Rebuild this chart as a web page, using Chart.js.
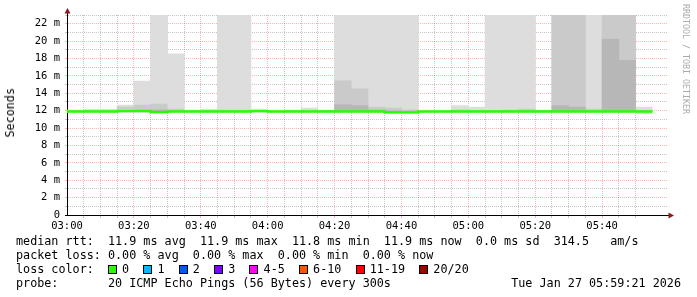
<!DOCTYPE html>
<html>
<head>
<meta charset="utf-8">
<script src="https://cdn.jsdelivr.net/npm/chart.js@4.4.1/dist/chart.umd.min.js"></script>
<style>
  body { margin: 0; background: #fff; }
  #wrap { position: relative; width: 697px; height: 297px; background: #fff; overflow: hidden; }
  #wrap canvas { position: absolute; left: 0; top: 0; }
  .txt { position: absolute; font-family: 'DejaVu Sans Mono', monospace; font-size: 11.75px; line-height: 14px; white-space: pre; color: #000; }
  .box { position: absolute; width: 7px; height: 7px; border: 1px solid #000; }
  #ytitle { left: 3px; top: 88px; writing-mode: vertical-rl; transform: rotate(180deg); }
  #mark { left: 681px; top: 4px; writing-mode: vertical-rl; font-size: 8.3px; line-height: 10px; color: #ababab; }
</style>
</head>
<body>
<div id="wrap">
  <canvas id="chart" width="697" height="297"></canvas>
  <div class="txt" id="ytitle">Seconds</div>
  <div class="txt" id="mark">RRDTOOL / TOBI OETIKER</div>
</div>
<script>
// 5 minute slots, start time of each
const times = ['03:00','03:05','03:10','03:15','03:20','03:25','03:30','03:35','03:40','03:45',
               '03:50','03:55','04:00','04:05','04:10','04:15','04:20','04:25','04:30','04:35',
               '04:40','04:45','04:50','04:55','05:00','05:05','05:10','05:15','05:20','05:25',
               '05:30','05:35','05:40','05:45','05:50'];

// median rtt (ms)
const median = [11.9, 11.9, 11.9, 11.95, 11.95, 11.85, 11.9, 11.9, 11.9, 11.9,
                11.9, 11.95, 11.9, 11.9, 11.9, 11.9, 11.9, 11.9, 11.9, 11.8,
                11.8, 11.9, 11.9, 11.9, 11.9, 11.9, 11.9, 11.9, 11.9, 11.9,
                11.9, 11.9, 11.9, 11.9, 11.9];

// smoke: lowest ping and the three highest pings per slot (ms), values above 23 run off the top
const smokeLow = [11.8, 11.8, 11.8, 11.8, 11.8, 11.8, 11.8, 11.8, 11.8, 11.8,
                  11.8, 11.8, 11.8, 11.8, 11.8, 11.8, 11.8, 11.8, 11.8, 11.7,
                  11.7, 11.8, 11.8, 11.8, 11.8, 11.8, 11.8, 11.8, 11.8, 11.8,
                  11.8, 11.8, 11.8, 11.8, 11.65];
const smokeTop1 = [12.07, 12.18, 12.18, 12.64, 15.4, 30, 18.54, 12.07, 12.18, 30,
                   30, 12.18, 11.95, 12.07, 12.3, 12.07, 30, 30, 30, 30,
                   30, 11.95, 12.0, 12.57, 12.41, 30, 30, 30, 12.07, 30,
                   30, 30, 30, 30, 12.41];
const smokeTop2 = [12.0, 12.0, 12.0, 12.41, 12.64, 12.76, 12.18, 12.0, 12.0, 12.05,
                   12.05, 12.0, 11.9, 12.0, 12.05, 12.0, 15.44, 14.52, 12.41, 12.3,
                   12.1, 11.9, 11.95, 12.1, 12.05, 12.0, 12.07, 12.18, 12.0, 30,
                   30, 12.18, 30, 30, 12.0];
const smokeTop3 = [11.95, 11.95, 11.95, 12.0, 12.1, 12.1, 12.0, 11.95, 11.95, 11.95,
                   11.95, 11.95, 11.9, 11.95, 11.95, 11.95, 12.68, 12.57, 12.1, 12.0,
                   11.95, 11.9, 11.9, 11.95, 11.95, 11.95, 11.95, 11.95, 11.95, 12.57,
                   12.41, 11.95, 20.23, 17.78, 11.95];

const xTickLabels = ['03:00','03:20','03:40','04:00','04:20','04:40','05:00','05:20','05:40'];

const lossLabels = ['0','1','2','3','4-5','6-10','11-19','20/20'];
const lossColors = ['#26ff00','#00b8ff','#0059ff','#7e00ff','#ff00ff','#ff5500','#ff0000','#a10000'];

const legendLines = [
  'median rtt:  11.9 ms avg  11.9 ms max  11.8 ms min  11.9 ms now  0.0 ms sd  314.5   am/s',
  'packet loss: 0.00 % avg  0.00 % max  0.00 % min  0.00 % now',
  null,
  'probe:       20 ICMP Echo Pings (56 Bytes) every 300s'
];
const probeDate = 'Tue Jan 27 05:59:21 2026';

function toMin(t) {
  const p = t.split(':');
  return (parseInt(p[0], 10) - 3) * 60 + parseInt(p[1], 10);
}

const slotMid = times.map(t => toMin(t) + 2.5);
function band(lo, hi) {
  return slotMid.map((x, i) => ({ x: x, y: [lo[i], hi[i]] }));
}
const medianPts = times.map((t, i) => ({ x: toMin(t), y: median[i] }));
medianPts.push({ x: toMin(times[times.length - 1]) + 5, y: median[median.length - 1] });

const MAJOR = 'rgba(255,0,0,0.3)';
const MINOR = 'rgba(140,140,140,0.5)';
const NONE = 'rgba(0,0,0,0)';
const FONT = 'DejaVu Sans Mono';

// grid colour per tick: major / minor / hidden
function xGrid(c) {
  if (!c.tick) return MINOR;
  const v = c.tick.value;
  if (v === 0 || v % 5 !== 0) return NONE;
  return v % 20 === 0 ? MAJOR : MINOR;
}
function yGrid(c) {
  if (!c.tick) return MINOR;
  const v = c.tick.value;
  if (v === 0) return NONE;
  return v % 2 === 0 ? MAJOR : MINOR;
}

const arrows = {
  id: 'arrows',
  afterDraw(chart) {
    const { ctx, chartArea: a } = chart;
    const x0 = Math.round(a.left) + 0.5, y0 = Math.round(a.bottom) + 0.5;
    ctx.save();
    ctx.strokeStyle = '#000';
    ctx.lineWidth = 1;
    ctx.beginPath();
    ctx.moveTo(x0, a.top); ctx.lineTo(x0, a.top - 3);
    ctx.moveTo(a.left - 2, y0); ctx.lineTo(a.left, y0);
    ctx.moveTo(a.right, y0); ctx.lineTo(a.right + 2, y0);
    ctx.stroke();
    ctx.fillStyle = '#8b1a1a';
    ctx.beginPath();
    ctx.moveTo(x0, a.top - 7); ctx.lineTo(x0 - 3, a.top - 1.5); ctx.lineTo(x0 + 3, a.top - 1.5);
    ctx.closePath(); ctx.fill();
    ctx.beginPath();
    ctx.moveTo(a.right + 6, y0); ctx.lineTo(a.right + 0.5, y0 - 3); ctx.lineTo(a.right + 0.5, y0 + 3);
    ctx.closePath(); ctx.fill();
    ctx.restore();
  }
};

new Chart(document.getElementById('chart'), {
  type: 'bar',
  data: {
    datasets: [
      { type: 'line', data: medianPts, borderColor: '#26ff00', borderWidth: 2.4, stepped: true,
        pointRadius: 0, fill: false, order: 0, borderCapStyle: 'butt' },
      { data: band(median, smokeTop3), backgroundColor: '#b7b7b7', grouped: false, order: 1,
        barPercentage: 1, categoryPercentage: 1, borderWidth: 0 },
      { data: band(median, smokeTop2), backgroundColor: '#cacaca', grouped: false, order: 2,
        barPercentage: 1, categoryPercentage: 1, borderWidth: 0 },
      { data: band(smokeLow, smokeTop1), backgroundColor: '#dddddd', grouped: false, order: 3,
        barPercentage: 1, categoryPercentage: 1, borderWidth: 0 }
    ]
  },
  options: {
    responsive: false,
    animation: false,
    devicePixelRatio: 1,
    layout: { padding: { top: 15, right: 29, left: 0, bottom: 0 } },
    plugins: { legend: { display: false }, tooltip: { enabled: false } },
    scales: {
      x: {
        type: 'linear', min: 0, max: 179.7, z: 1, offset: false,
        afterFit: s => { s.height = 82; },
        ticks: {
          stepSize: 5, autoSkip: false, maxRotation: 0, padding: 2, color: '#000',
          font: { family: FONT, size: 10.5 },
          callback: v => (v % 20 === 0 && v / 20 < xTickLabels.length) ? xTickLabels[v / 20] : ''
        },
        grid: { color: xGrid, tickColor: xGrid, tickLength: 3, offset: false },
        border: { color: '#000', width: 1, dash: [1, 1] }
      },
      y: {
        min: 0, max: 23, z: 1,
        afterFit: s => { s.width = 67; },
        ticks: {
          stepSize: 1, autoSkip: false, padding: 5, color: '#000',
          font: { family: FONT, size: 10.5 },
          callback: v => (v % 2 !== 0) ? '' : (v === 0 ? '0' : v + ' m')
        },
        grid: { color: yGrid, tickColor: yGrid, tickLength: 2 },
        border: { color: '#000', width: 1, dash: [1, 1] }
      }
    }
  },
  plugins: [arrows]
});

// legend text under the plot
const wrap = document.getElementById('wrap');
const lineTops = [234, 248, 262, 276];
const mctx = document.createElement('canvas').getContext('2d');
mctx.font = '11.75px "' + FONT + '"';
const ch = mctx.measureText('0').width;

legendLines.forEach((s, i) => {
  let text = s;
  if (s === null) {
    text = 'loss color:  ';
    lossLabels.forEach((lab, k) => {
      const idx = text.length;
      const b = document.createElement('div');
      b.className = 'box';
      b.style.background = lossColors[k];
      b.style.left = (16 + idx * ch) + 'px';
      b.style.top = (lineTops[i] + 3) + 'px';
      wrap.appendChild(b);
      text += '  ' + lab + '  ';
    });
  }
  const d = document.createElement('div');
  d.className = 'txt';
  d.style.left = '16px';
  d.style.top = lineTops[i] + 'px';
  d.textContent = text;
  wrap.appendChild(d);
});
const dt = document.createElement('div');
dt.className = 'txt';
dt.style.right = '16px';
dt.style.top = lineTops[3] + 'px';
dt.textContent = probeDate;
wrap.appendChild(dt);
</script>
</body>
</html>
